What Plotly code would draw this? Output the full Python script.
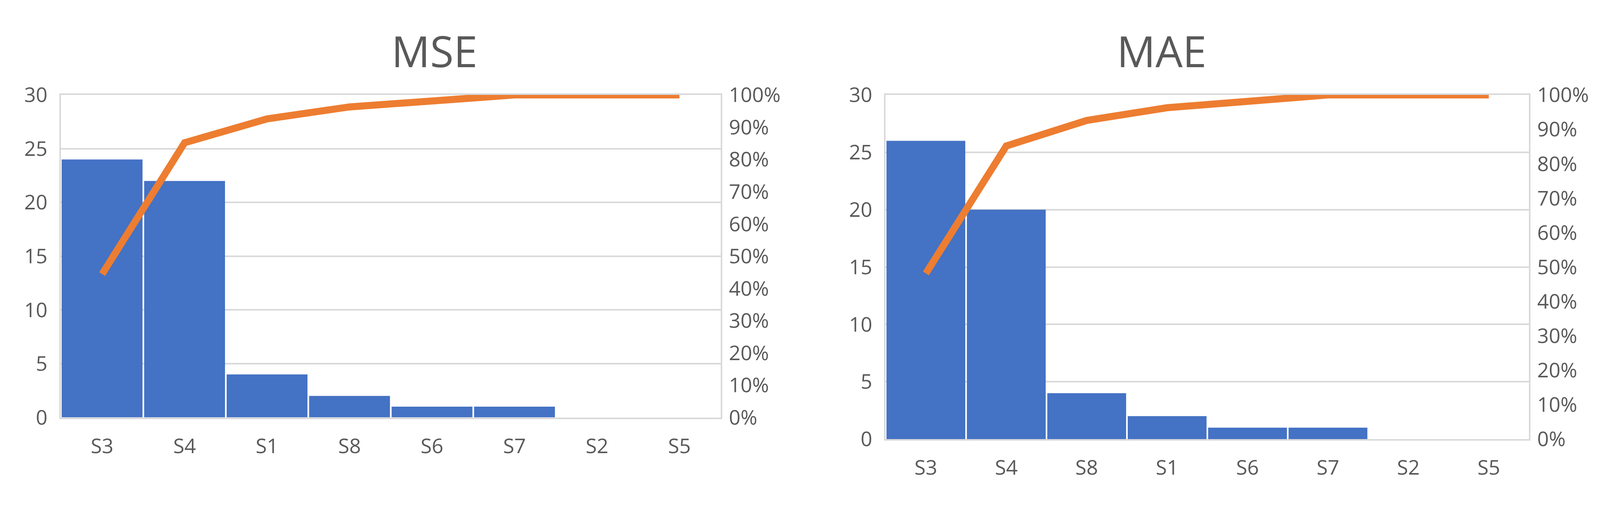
import plotly.graph_objects as go
import numpy as np

mse_cats = ["S3", "S4", "S1", "S8", "S6", "S7", "S2", "S5"]
mse_vals = [24, 22, 4, 2, 1, 1, 0, 0]
mae_cats = ["S3", "S4", "S8", "S1", "S6", "S7", "S2", "S5"]
mae_vals = [26, 20, 4, 2, 1, 1, 0, 0]
left_ticks = [0, 5, 10, 15, 20, 25, 30]
pct_ticks = [0, 0.1, 0.2, 0.3, 0.4, 0.5, 0.6, 0.7, 0.8, 0.9, 1.0]

BLUE = "#4472C4"
ORANGE = "#ED7D31"
GRID = "#D9D9D9"
TXT = "#595959"
FONT = "Open Sans"

def cum(v):
    c = np.cumsum(v)
    return list(c / c[-1])

fig = go.Figure()
fig.add_trace(go.Bar(x=mse_cats, y=mse_vals, marker_color=BLUE, marker_line_width=0, xaxis="x", yaxis="y"))
fig.add_trace(go.Scatter(x=mse_cats, y=cum(mse_vals), mode="lines", line=dict(color=ORANGE, width=18), xaxis="x", yaxis="y2"))
fig.add_trace(go.Bar(x=mae_cats, y=mae_vals, marker_color=BLUE, marker_line_width=0, xaxis="x2", yaxis="y3"))
fig.add_trace(go.Scatter(x=mae_cats, y=cum(mae_vals), mode="lines", line=dict(color=ORANGE, width=18), xaxis="x2", yaxis="y4"))

tf = dict(family=FONT, size=52, color=TXT)
xcommon = dict(showgrid=False, tickfont=tf, showline=True, linecolor=GRID, linewidth=4, mirror=True, ticks="", ticklen=0,
               ticklabelstandoff=25)
ycommon = dict(range=[0, 30], tickvals=left_ticks, showgrid=True, gridcolor=GRID, gridwidth=4, tickfont=tf,
               zeroline=False, showline=True, linecolor=GRID, linewidth=4, mirror=True, ticklabelstandoff=20)
pcommon = dict(range=[0, 1], tickvals=pct_ticks, tickformat=".0%", showgrid=False, tickfont=tf,
               zeroline=False, side="right", ticklabelstandoff=20)

fig.update_layout(
    width=4223, height=1303, margin=dict(l=0, r=0, t=0, b=0),
    paper_bgcolor="white", plot_bgcolor="white", showlegend=False, bargap=0.02,
    xaxis=dict(domain=[0.035, 0.435], anchor="y", **xcommon),
    yaxis=dict(domain=[0.17, 0.84], anchor="x", **ycommon),
    yaxis2=dict(overlaying="y", anchor="x", **pcommon),
    xaxis2=dict(domain=[0.535, 0.925], anchor="y3", **xcommon),
    yaxis3=dict(domain=[0.125, 0.84], anchor="x2", **ycommon),
    yaxis4=dict(overlaying="y3", anchor="x2", **pcommon),
    annotations=[
        dict(text="MSE", x=0.235, y=0.995, yanchor="top", xref="paper", yref="paper", showarrow=False,
             font=dict(family=FONT, size=110, color=TXT)),
        dict(text="MAE", x=0.73, y=0.995, yanchor="top", xref="paper", yref="paper", showarrow=False,
             font=dict(family=FONT, size=110, color=TXT)),
    ],
)
fig.write_html("out.html")
